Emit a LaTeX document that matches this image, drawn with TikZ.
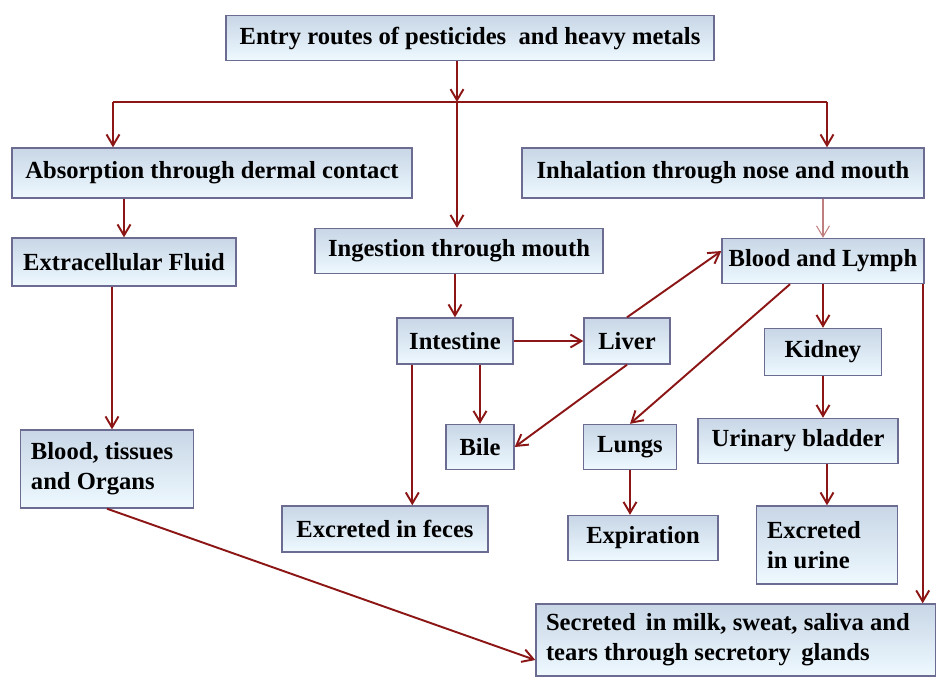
\documentclass[tikz,border=0pt]{standalone}
\usepackage{fontspec}
\setmainfont{Liberation Serif}
\usepackage{tikz}
\usetikzlibrary{positioning,calc,arrows.meta}
\definecolor{arrowred}{RGB}{140,22,22}
\definecolor{boxtop}{RGB}{200,214,230}
\definecolor{boxbot}{RGB}{238,249,255}
\tikzset{->,>={Straight Barb[length=2.2mm,width=2.6mm]},
box/.style={rectangle,draw=gray!85!blue,line width=0.8pt,top color=boxtop,bottom color=boxbot,
  font=\fontsize{14}{17}\selectfont\bfseries\frenchspacing,inner sep=0pt},
sz/.style 2 args={minimum width=#1*0.02cm,minimum height=#2*0.02cm},
tl/.style={align=flush left,text width=#1*0.02cm},
link/.style={draw=arrowred,line width=1.1pt},
thinlink/.style={draw=arrowred!55,line width=0.6pt},
}
\begin{document}
\begin{tikzpicture}[x=0.02cm,y=-0.02cm]
	\useasboundingbox (0,0) rectangle (936,677);
	\node[box,sz={488}{45}] (entry) at (470,38) {Entry routes of pesticides\ \ and heavy metals};

	\node[box,sz={400}{50}] (absorb) at (212,173) {Absorption through dermal contact};
	\node[box,sz={402}{50}] (inhale) at (723,173) {Inhalation through nose and mouth};
	\node[box,sz={288}{45}] (ingest) at (459,251) {Ingestion through mouth};

	\node[box,sz={224}{48}] (extra) at (124,262) {Extracellular Fluid};
	\node[box,sz={202}{45}] (blood) at (823,261) {Blood and Lymph};
	\node[box,sz={116}{46}] (intest) at (455,341) {Intestine};
	\node[box,sz={86}{46}] (liver) at (627,341) {Liver};
	\node[box,sz={117}{47}] (kidney) at (823,352) {Kidney};

	\node[box,sz={173}{78},tl={152}] (organs) at (107,469) {Blood, tissues\\and Organs};
	\node[box,sz={68}{45}] (bile) at (480,447) {Bile};
	\node[box,sz={93}{45}] (lungs) at (630,447) {Lungs};
	\node[box,sz={200}{45}] (bladder) at (798,441) {Urinary bladder};

	\node[box,sz={206}{46}] (feces) at (385,529) {Excreted in feces};
	\node[box,sz={150}{45}] (expir) at (643,538) {Expiration};
	\node[box,sz={141}{78},tl={120}] (urine) at (827,545) {Excreted\\in urine};
	\node[box,sz={400}{72},tl={380}] (secret) at (736,640) {Secreted\,\ in milk, sweat, saliva and\\tears through secretory\,\ glands};

	% split under the title
	\coordinate (split) at (457,102);
	\coordinate (lft) at (113,102);
	\coordinate (rgt) at (827,102);
	\coordinate (fc) at ([xshift=0.32cm]intest.south west);
	\coordinate (sec) at ([xshift=-0.04cm]blood.south east);

	\draw[link] (entry.south -| split) -- (split);
	\draw[link,-] (lft) -- (rgt);
	\draw[link] (lft) -- (absorb.north -| lft);
	\draw[link] (split) -- (ingest.north -| split);
	\draw[link] (rgt) -- (inhale.north -| rgt);

	\draw[link] (absorb.south -| extra.north) -- (extra.north);
	\draw[link] ([xshift=0.1cm]extra.south -| organs.north) -- ([xshift=0.1cm]organs.north);
	\draw[link] (organs.south) -- ([yshift=-0.4cm]secret.west);

	\draw[link] (ingest.south -| intest.north) -- (intest.north);
	\draw[link] (intest.east) -- (liver.west);
	\draw[link] (intest.south -| bile.north) -- (bile.north);
	\draw[link] (fc) -- (fc |- feces.north);
	\draw[link] (liver.south) -- (bile.east);
	\draw[link] (liver.north) -- ([yshift=0.2cm]blood.west);

	\draw[thinlink] (inhale.south -| blood.north) -- (blood.north);
	\draw[link] ([xshift=-0.66cm]blood.south) -- (lungs.north);
	\draw[link] (blood.south) -- (blood.south |- kidney.north);
	\draw[link] (sec) -- (sec |- secret.north);
	\draw[link] (kidney.south) -- (kidney.south |- bladder.north);
	\draw[link] (bladder.south -| urine.north) -- (urine.north);
	\draw[link] (lungs.south) -- (lungs.south |- expir.north);
\end{tikzpicture}
\end{document}
